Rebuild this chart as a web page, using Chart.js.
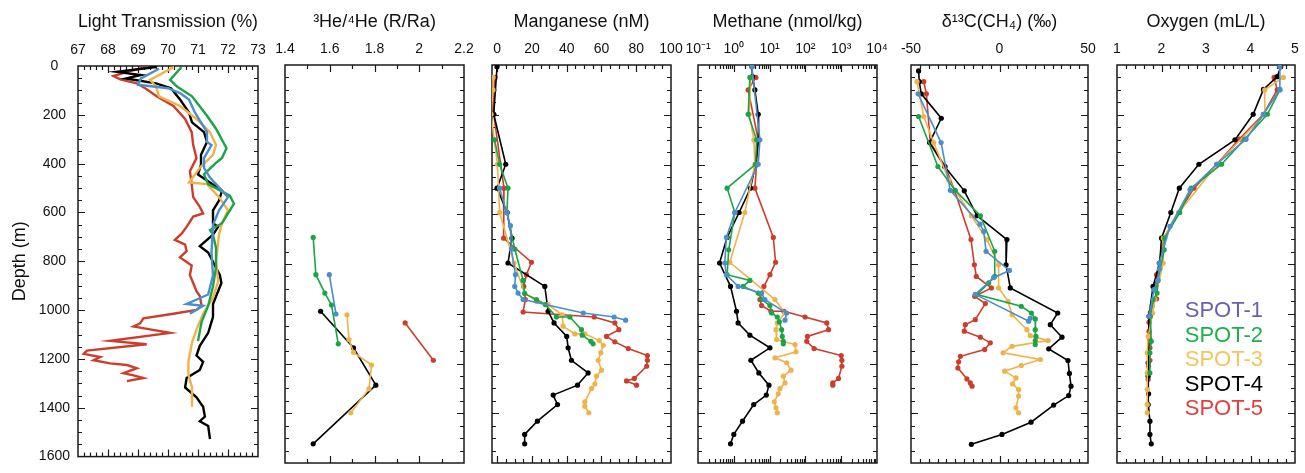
<!DOCTYPE html>
<html>
<head>
<meta charset="utf-8">
<script src="https://cdn.jsdelivr.net/npm/chart.js@4.4.0/dist/chart.umd.min.js"></script>
<style>
  body { margin: 0; background: #fff; }
  #wrap { position: relative; width: 1305px; height: 473px; overflow: hidden; background: #fff; }
  #wrap canvas { position: absolute; top: 0; }
</style>
</head>
<body>
<div id="wrap"></div>
<script>
// ---- data: each series is a list of [value, depth (m)] ----
const STATIONS = ['SPOT-1', 'SPOT-2', 'SPOT-3', 'SPOT-4', 'SPOT-5'];
const DEPTH_TICKS = [0, 200, 400, 600, 800, 1000, 1200, 1400, 1600];

// Light transmission (%)
const LT_TICKS = [67, 68, 69, 70, 71, 72, 73];
const LT_SPOT1 = [[69.7,11],[69.1,51],[69.0,77],[70.0,91],[70.4,111],[70.7,137],[70.9,191],[71.3,271],[71.3,311],[71.45,324],[71.2,377],[71.2,417],[71.4,457],[71.7,497],[72.0,537],[71.7,591],[71.5,650],[71.45,764],[71.5,857],[71.34,936],[70.62,975],[71.17,982],[70.73,1015]];
const LT_SPOT2 = [[70.45,4],[70.07,57],[70.3,84],[70.8,124],[71.3,204],[71.6,257],[71.95,337],[71.8,377],[71.6,397],[71.2,444],[71.34,484],[72.06,531],[72.2,564],[71.8,644],[71.4,672],[71.5,691],[71.6,745],[71.6,824],[71.5,903],[71.34,982],[71.12,1048],[71.0,1127]];
const LT_SPOT3 = [[70.2,4],[69.4,57],[69.6,84],[69.7,124],[70.4,164],[70.95,217],[71.4,271],[71.6,324],[71.5,364],[71.06,417],[70.7,477],[71.3,484],[71.7,537],[72.0,591],[71.8,644],[71.7,691],[71.6,798],[71.67,883],[71.5,949],[71.17,1015],[70.95,1080],[70.8,1133],[70.68,1212],[70.68,1265],[70.8,1317],[70.8,1396]];
const LT_SPOT4 = [[69.6,4],[68.3,24],[69.1,37],[68.6,51],[69.6,71],[70.1,91],[70.4,137],[70.7,191],[70.8,231],[71.2,271],[71.3,311],[71.1,364],[71.1,404],[71.0,444],[71.4,477],[71.8,511],[71.7,551],[71.5,591],[71.5,644],[71.67,659],[71.5,691],[71.06,738],[71.34,764],[71.73,857],[71.78,889],[71.5,975],[71.5,1028],[71.34,1093],[71.06,1146],[70.95,1186],[71.17,1212],[71.06,1245],[70.62,1278],[70.57,1317],[70.95,1357],[71.17,1396],[71.23,1436],[71.06,1455],[71.34,1475],[71.4,1528]];
const LT_SPOT5 = [[69.29,4],[68.63,24],[68.18,41],[68.41,55],[68.96,71],[69.29,95],[69.62,124],[70.18,164],[70.57,217],[70.79,271],[70.84,324],[70.95,377],[70.73,431],[70.79,484],[70.84,537],[71.06,577],[71.17,604],[70.84,617],[70.62,659],[70.46,686],[70.23,712],[70.57,732],[70.62,758],[70.40,784],[70.79,817],[70.73,857],[70.84,889],[70.95,922],[71.06,942],[71.12,982],[70.95,999],[70.18,1015],[69.18,1034],[69.07,1054],[68.85,1067],[69.35,1078],[70.07,1093],[68.07,1126],[69.29,1140],[67.30,1166],[67.19,1179],[67.74,1192],[67.52,1205],[68.07,1218],[68.63,1225],[68.96,1238],[68.52,1258],[68.85,1267],[69.18,1278],[68.63,1291]];

// 3He/4He (R/Ra)
const HE_TICKS = [1.4, 1.6, 1.8, 2, 2.2];
const HE_SPOT1 = [[1.598,843],[1.628,1001]];
const HE_SPOT2 = [[1.526,693],[1.538,843],[1.578,917],[1.608,965],[1.638,1121]];
const HE_SPOT3 = [[1.677,1004],[1.686,1104],[1.706,1155],[1.787,1206],[1.775,1302],[1.694,1398]];
const HE_SPOT4 = [[1.559,990],[1.706,1137],[1.806,1287],[1.526,1523]];
const HE_SPOT5 = [[1.937,1037],[2.063,1187]];

// Manganese (nM)
const MN_TICKS = [0, 20, 40, 60, 80, 100];
const MN_SPOT1 = [[1.4,495],[5.3,593],[7.6,646],[8.1,740],[10.5,843],[10.1,890],[12.0,917],[14.9,943],[49.5,997],[67.3,1013],[73.9,1026]];
const MN_SPOT2 = [[-1.5,301],[1.4,399],[6.2,495],[5.6,593],[10.1,740],[14.9,866],[15.8,919],[22.6,943],[27.7,963],[34.1,1013],[41.8,1013],[48.5,1064],[48.9,1086],[53.9,1111],[55.2,1121]];
const MN_SPOT3 = [[-2.4,50],[-2.4,100],[-3.5,198],[0.1,399],[1.4,593],[9.7,796],[15.8,917],[22.6,950],[29.3,963],[37.4,1004],[37.9,1050],[44.7,1081],[50.4,1081],[58.7,1108],[61.0,1127],[59.6,1157],[58.1,1187],[60.0,1227],[57.1,1251],[56.2,1282],[54.3,1300],[50.4,1354],[50.4,1372],[52.7,1398]];
const MN_SPOT4 = [[-0.1,7],[-2.0,198],[4.9,399],[-0.1,495],[5.7,593],[8.5,696],[6.2,796],[27.4,890],[29.3,990],[32.7,1037],[40.0,1091],[40.8,1137],[42.7,1187],[52.3,1238],[46.2,1287],[32.2,1327],[34.7,1365],[23.1,1432],[15.8,1485],[15.8,1523]];
const MN_SPOT5 = [[-1.1,50],[-1.9,100],[-2.0,198],[3.9,495],[3.7,696],[19.7,793],[16.8,843],[15.3,890],[16.2,943],[14.9,993],[55.8,1013],[67.7,1037],[70.0,1064],[62.9,1091],[67.7,1113],[75.4,1140],[86.4,1168],[86.4,1187],[86.0,1211],[78.9,1260],[74.4,1270],[80.2,1287]];

// Methane (nmol/kg)
const CH4_TICKS = [0.1, 1, 10, 100, 1000, 10000];
const CH4_TICK_LABELS = ['10⁻¹', '10⁰', '10¹', '10²', '10³', '10⁴'];
const CH4_SPOT1 = [[3.2,7],[5.36,301],[4.81,399],[1.07,593],[0.62,693],[0.56,796],[0.62,843],[1.32,890],[5.97,917],[7.4,943],[30,997],[26.9,1026]];
const CH4_SPOT2 = [[2.81,50],[2.52,198],[4.33,301],[4.05,399],[0.65,495],[1.07,593],[0.72,743],[0.65,843],[2.81,866],[1.83,890],[4.81,917],[5.97,943],[10.2,967],[11.4,997],[16.4,1013],[18.7,1033],[21.7,1064],[22.6,1091],[24.2,1111],[24.2,1121]];
const CH4_SPOT3 = [[3.0,50],[2.69,198],[3.64,301],[3.88,399],[2.03,593],[0.77,793],[14.1,943],[26.9,997],[16.4,1037],[15.1,1064],[15.7,1104],[51.3,1124],[54.7,1153],[14.1,1177],[30.0,1197],[39.6,1227],[24.2,1251],[26.9,1278],[19.5,1300],[17.5,1322],[13.5,1354],[15.1,1378],[16.4,1398]];
const CH4_SPOT4 = [[3.2,7],[3.33,47],[3.88,100],[4.81,198],[4.92,301],[4.05,399],[2.93,495],[1.41,593],[0.65,693],[0.40,796],[0.81,890],[1.19,990],[1.32,1037],[2.81,1086],[10.2,1137],[3.0,1187],[5.0,1238],[9.6,1287],[8.1,1327],[3.6,1365],[1.75,1432],[1.0,1485],[0.81,1523]];
const CH4_SPOT5 = [[4.14,50],[2.52,100],[4.81,301],[4.33,399],[3.88,495],[12.7,693],[14.7,793],[10.2,843],[6.93,890],[5.36,943],[5.97,967],[10.9,990],[25.2,990],[97.9,1013],[396,1037],[442,1064],[114,1091],[109,1111],[175,1140],[1000,1168],[1045,1187],[1045,1211],[841,1260],[583,1278],[583,1287]];

// delta13C(CH4) (permil)
const D13_TICKS = [-50, 0, 50];
const D13_SPOT1 = [[-46.0,116],[-33.0,312],[-27.8,504],[-11.0,640],[-8.9,669],[-7.6,749],[5.6,826],[-3.3,855],[-13.7,922],[16.5,1030],[17.4,1017]];
const D13_SPOT2 = [[-45.7,207],[-34.8,408],[-25.0,504],[-10.8,606],[-2.7,749],[-2.7,850],[-6.1,876],[-12.7,923],[12.3,970],[18.0,997],[20.2,1021],[20.2,1064],[20.6,1091],[20.2,1108],[20.2,1124]];
const D13_SPOT3 = [[-46.6,67],[-42.8,207],[-37.2,312],[-28.7,462],[-15.9,606],[-7.1,702],[-0.5,803],[-0.5,896],[4.8,950],[7.1,1004],[15.5,1064],[17.4,1088],[27.4,1108],[7.1,1131],[2.0,1157],[23.1,1184],[12.3,1208],[2.9,1231],[9.3,1258],[7.4,1282],[10.8,1305],[10.8,1331],[9.3,1378],[10.8,1398]];
const D13_SPOT4 = [[-45.7,24],[-45.3,67],[-44.2,116],[-32.9,214],[-39.5,312],[-31.0,408],[-19.9,506],[-12.7,606],[4.2,702],[3.7,803],[6.1,896],[32.9,997],[28.7,1044],[35.3,1094],[27.8,1141],[38.7,1188],[39.5,1240],[40.4,1291],[39.1,1329],[30.6,1367],[17.8,1436],[1.4,1485],[-15.9,1525]];
const D13_SPOT5 = [[-42.8,67],[-41.3,116],[-39.1,312],[-30.6,408],[-25.3,506],[-16.1,702],[-14.2,803],[-13.1,850],[-4.6,896],[-14.0,930],[-8.0,959],[-13.7,1024],[-19.3,1044],[-19.9,1070],[-10.8,1094],[-5.2,1117],[-8.4,1144],[-22.1,1171],[-23.1,1193],[-23.5,1218],[-18.4,1262],[-16.5,1278],[-15.5,1291]];

// Oxygen (mL/L)
const O2_TICKS = [1, 2, 3, 4, 5];
const O2_SPOT1 = [[4.66,7],[4.66,98],[4.29,198],[3.90,298],[3.24,399],[2.64,502],[2.19,649],[1.95,796],[1.95,820],[1.92,866],[1.83,903],[1.72,1010]];
const O2_SPOT2 = [[4.66,100],[4.38,198],[3.87,298],[3.35,399],[2.67,495],[2.41,593],[2.07,696],[2.06,743],[1.92,866],[1.90,917],[1.81,943],[1.75,1010],[1.77,1111],[1.74,1157],[1.74,1238]];
const O2_SPOT3 = [[4.74,50],[4.32,100],[4.32,198],[3.25,399],[2.39,593],[2.04,696],[2.04,796],[1.85,943],[1.80,997],[1.70,1091],[1.68,1157],[1.68,1238],[1.68,1305],[1.68,1365],[1.68,1398]];
const O2_SPOT4 = [[4.68,7],[4.60,47],[4.29,98],[4.06,198],[3.65,301],[2.84,399],[2.40,495],[2.21,593],[2.0,696],[1.96,796],[1.81,890],[1.72,1010],[1.70,1197],[1.70,1251],[1.71,1322],[1.70,1365],[1.74,1432],[1.74,1485],[1.77,1523]];
const O2_SPOT5 = [[4.53,50],[4.60,100],[4.29,198],[3.75,298],[3.24,399],[2.73,495],[2.39,593],[2.05,696],[1.95,796],[1.89,843],[1.85,890],[1.89,940],[1.79,967],[1.75,994],[1.72,1034],[1.72,1070],[1.74,1104],[1.74,1137],[1.74,1187],[1.71,1211],[1.70,1238],[1.70,1264]];

// ---- styling ----
const FONT = '"Liberation Sans", Arial, Helvetica, sans-serif';
const LINE_COLORS = ['#4a8ecb', '#1ba446', '#f0b24a', '#000000', '#cd3d2c'];
const LEGEND_COLORS = ['#6a60b3', '#1db04c', '#f2c55f', '#000000', '#e23e3d'];

const panels = [
  { title: 'Light Transmission (%)', type: 'linear', min: 67, max: 73, ticks: LT_TICKS, minor: 0.2, major: 1,
    series: [LT_SPOT1, LT_SPOT2, LT_SPOT3, LT_SPOT4, LT_SPOT5], left: 78, right: 258, top: 66, bottom: 468, depthAxis: true, markers: false },
  { title: '³He/⁴He (R/Ra)', type: 'linear', min: 1.4, max: 2.2, ticks: HE_TICKS, minor: 0.1, major: 0.2,
    series: [HE_SPOT1, HE_SPOT2, HE_SPOT3, HE_SPOT4, HE_SPOT5], left: 285, right: 464, top: 65, bottom: 463, markers: true },
  { title: 'Manganese (nM)', type: 'linear', min: -3, max: 100, ticks: MN_TICKS, minor: 5, major: 20,
    series: [MN_SPOT1, MN_SPOT2, MN_SPOT3, MN_SPOT4, MN_SPOT5], left: 492, right: 671, top: 65, bottom: 463, markers: true },
  { title: 'Methane (nmol/kg)', type: 'logarithmic', min: 0.1, max: 10000, ticks: CH4_TICKS, labels: CH4_TICK_LABELS,
    series: [CH4_SPOT1, CH4_SPOT2, CH4_SPOT3, CH4_SPOT4, CH4_SPOT5], left: 698, right: 877, top: 65, bottom: 463, markers: true },
  { title: 'δ¹³C(CH₄) (‰)', type: 'linear', min: -50, max: 50, ticks: D13_TICKS, minor: 5, major: 50,
    series: [D13_SPOT1, D13_SPOT2, D13_SPOT3, D13_SPOT4, D13_SPOT5], left: 911, right: 1088, top: 65, bottom: 463, markers: true },
  { title: 'Oxygen (mL/L)', type: 'linear', min: 1, max: 5, ticks: O2_TICKS, minor: 0.2, major: 1,
    series: [O2_SPOT1, O2_SPOT2, O2_SPOT3, O2_SPOT4, O2_SPOT5], left: 1117, right: 1295, top: 65, bottom: 463, markers: true, legend: true }
];

// frame with inward tick marks on all four sides
const framePlugin = {
  id: 'frame',
  beforeDatasetsDraw(chart, args, opts) {
    const { ctx, chartArea: a } = chart;
    const xs = chart.scales.x, ys = chart.scales.y;
    ctx.save();
    ctx.strokeStyle = '#1a1a1a';
    ctx.lineWidth = 1.2;
    ctx.beginPath();
    // depth ticks every 50 m, longer every 200 m
    for (let d = 50; d < 1600; d += 50) {
      const y = Math.round(ys.getPixelForValue(d)) + 0.5;
      const len = d % 200 === 0 ? 7 : 4;
      ctx.moveTo(a.left, y); ctx.lineTo(a.left + len, y);
      ctx.moveTo(a.right, y); ctx.lineTo(a.right - len, y);
    }
    // value ticks
    const marks = [];
    if (opts.log) {
      for (let e = -1; e < 4; e++) {
        for (let m = 1; m < 10; m++) marks.push([m * Math.pow(10, e), m === 1]);
      }
    } else {
      const start = Math.ceil(opts.min / opts.minor - 1e-6) * opts.minor;
      for (let v = start; v <= opts.max + 1e-6; v += opts.minor) {
        const r = v / opts.major;
        marks.push([v, Math.abs(r - Math.round(r)) < 1e-6]);
      }
    }
    marks.forEach(([v, big]) => {
      const x = Math.round(xs.getPixelForValue(v)) + 0.5;
      if (x <= a.left + 1 || x >= a.right - 1) return;
      const len = big ? 7 : 4;
      ctx.moveTo(x, a.top); ctx.lineTo(x, a.top + len);
      ctx.moveTo(x, a.bottom); ctx.lineTo(x, a.bottom - len);
    });
    ctx.stroke();
    ctx.lineWidth = 1.5;
    ctx.strokeRect(a.left, a.top, a.right - a.left, a.bottom - a.top);
    ctx.restore();
  }
};

// station names written inside the oxygen panel
const stationLegend = {
  id: 'stationLegend',
  afterDatasetsDraw(chart, args, opts) {
    if (!opts.show) return;
    const { ctx, chartArea: a } = chart;
    ctx.save();
    ctx.font = '22px ' + FONT;
    ctx.textAlign = 'right';
    ctx.textBaseline = 'middle';
    STATIONS.forEach((name, k) => {
      ctx.fillStyle = LEGEND_COLORS[k];
      ctx.fillText(name, a.right - 32, a.top + 246 + k * 24.5);
    });
    ctx.restore();
  }
};

const wrap = document.getElementById('wrap');

panels.forEach(p => {
  const padL = p.depthAxis ? 0 : 22;
  const padR = 22;
  const cLeft = p.depthAxis ? 0 : p.left - padL;
  const cWidth = p.right + padR - cLeft;
  const canvas = document.createElement('canvas');
  canvas.width = cWidth;
  canvas.height = 473;
  canvas.style.left = cLeft + 'px';
  canvas.style.width = cWidth + 'px';
  canvas.style.height = '473px';
  wrap.appendChild(canvas);

  const datasets = p.series.map((s, k) => ({
    label: STATIONS[k],
    data: s.map(([v, d]) => ({ x: v, y: d })),
    showLine: true,
    borderColor: LINE_COLORS[k],
    backgroundColor: LINE_COLORS[k],
    borderWidth: p.markers ? 1.6 : 2.4,
    pointRadius: p.markers ? 2.6 : 0,
    pointBorderWidth: 0,
    tension: 0
  }));

  new Chart(canvas, {
    type: 'scatter',
    data: { datasets },
    options: {
      responsive: false,
      animation: false,
      events: [],
      layout: { padding: { left: padL, right: padR, top: 0, bottom: 473 - p.bottom } },
      plugins: {
        legend: { display: false },
        tooltip: { enabled: false },
        frame: { log: p.type === 'logarithmic', min: p.min, max: p.max, minor: p.minor, major: p.major },
        stationLegend: { show: !!p.legend }
      },
      scales: {
        x: {
          type: p.type,
          position: 'top',
          min: p.min,
          max: p.max,
          grid: { display: false, drawTicks: false },
          border: { display: false },
          afterBuildTicks: s => { s.ticks = p.ticks.map(v => ({ value: v, major: false })); },
          afterFit: s => { s.height = p.top; },
          ticks: {
            autoSkip: false,
            maxRotation: 0,
            padding: 7,
            color: '#111',
            font: { family: FONT, size: 14 },
            callback: (v) => p.labels ? p.labels[p.ticks.indexOf(v)] : String(v)
          },
          title: {
            display: true,
            text: p.title,
            color: '#111',
            font: { family: FONT, size: 18 },
            padding: { top: 11, bottom: 0 }
          }
        },
        y: {
          type: 'linear',
          reverse: true,
          min: 0,
          max: 1600,
          display: !!p.depthAxis,
          grid: { display: false, drawTicks: false },
          border: { display: false },
          afterBuildTicks: s => { s.ticks = DEPTH_TICKS.map(v => ({ value: v })); },
          afterFit: s => { if (p.depthAxis) s.width = p.left; },
          ticks: {
            padding: 8,
            crossAlign: 'center',
            color: '#111',
            font: { family: FONT, size: 14 },
            callback: (v) => String(v)
          },
          title: {
            display: true,
            text: 'Depth (m)',
            color: '#111',
            font: { family: FONT, size: 18 },
            padding: { top: 9, bottom: 0 }
          }
        }
      }
    },
    plugins: [framePlugin, stationLegend]
  });
});
</script>
</body>
</html>
